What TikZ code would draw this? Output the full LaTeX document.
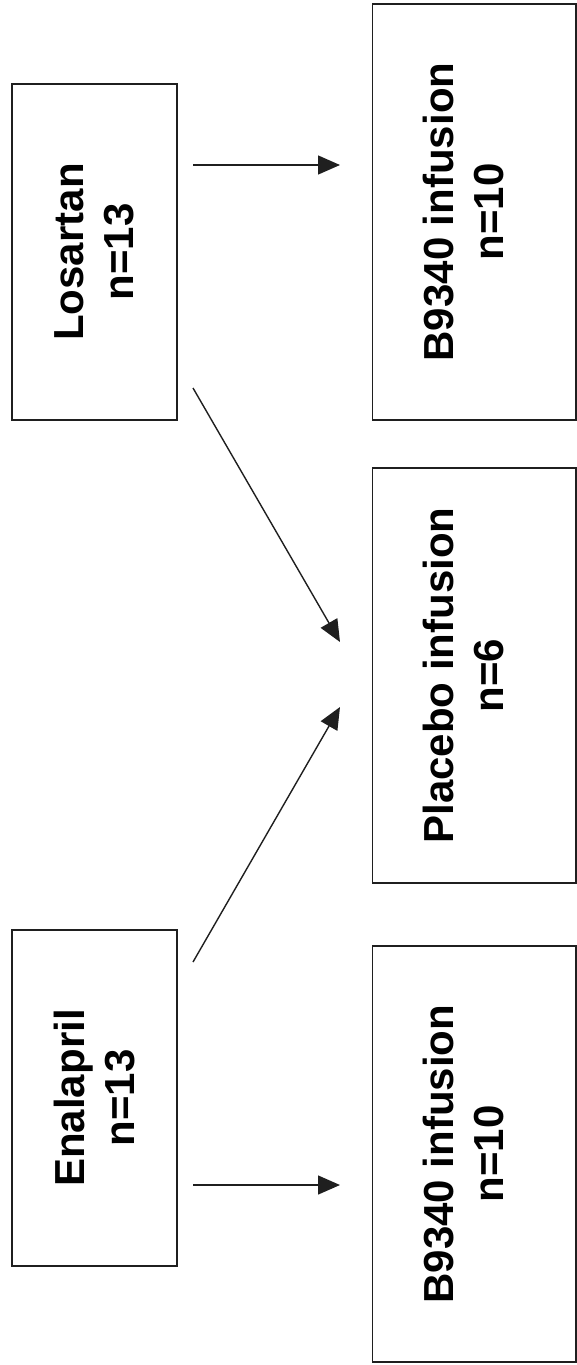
\documentclass[tikz,border=0pt]{standalone}
\usepackage{fontspec}
\setmainfont{Liberation Sans}
\usetikzlibrary{arrows.meta}

% extra depth under the last line pushes the rotated text towards the page's left
\newcommand{\leftpad}{\rule[-22pt]{0pt}{1pt}}

\begin{document}
\begin{tikzpicture}[x=1pt,y=1pt,
  stage/.style={draw=black!88, line width=1.6pt, rotate=90, inner sep=0pt,
    align=center, font=\fontsize{42}{50}\selectfont\bfseries},
  smallbox/.style={stage, minimum width=336pt, minimum height=165pt},
  bigbox/.style={stage, minimum width=416pt, minimum height=203.5pt},
  flow/.style={draw=black!88, line width=1.4pt,
    -{Triangle[length=22pt,width=19pt]}}]
  \useasboundingbox (0,0) rectangle (577,-1365);

  % pre-treatment groups
  \node[smallbox] (los) at (94.5,-252)  {Losartan\\n=13};
  \node[smallbox] (ena) at (94.5,-1098) {Enalapril\\n=13};

  % infusion groups
  \node[bigbox] (bk1) at (474.25,-212)   {B9340 infusion\\n=10\leftpad};
  \node[bigbox, minimum width=415pt] (pla) at (474.25,-675.5) {Placebo infusion\\n=6\leftpad};
  \node[bigbox] (bk2) at (474.25,-1154)  {B9340 infusion\\n=10\leftpad};

  % arrow end points in the gap between the columns
  \coordinate (losA) at (193,-165);
  \coordinate (losB) at (193,-388);
  \coordinate (enaA) at (193,-962);
  \coordinate (enaB) at (193,-1185);
  \coordinate (bk1in) at (340,-165);
  \coordinate (plaA) at (340,-642);
  \coordinate (plaB) at (340,-707);
  \coordinate (bk2in) at (340,-1185);

  \draw[flow] (losA) -- (bk1in);
  \draw[flow] (losB) -- (plaA);
  \draw[flow] (enaA) -- (plaB);
  \draw[flow] (enaB) -- (bk2in);
\end{tikzpicture}
\end{document}
